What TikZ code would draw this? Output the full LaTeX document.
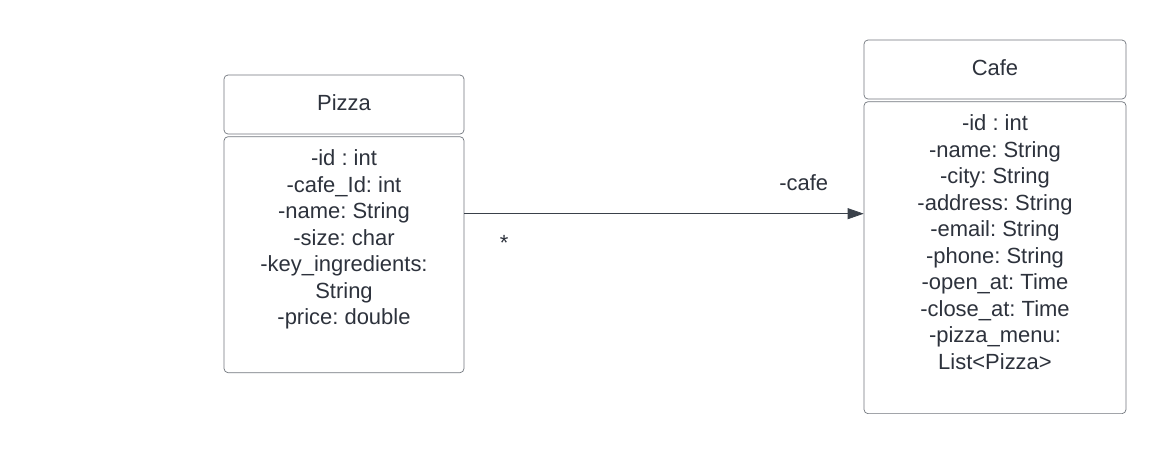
\documentclass[tikz,border=0pt]{standalone}
\usepackage{fontspec}
\setmainfont{Liberation Sans}
\usetikzlibrary{arrows.meta,positioning}
\frenchspacing
\begin{document}
\begin{tikzpicture}[x=0.02cm, y=-0.02cm, line join=round,
  font=\fontsize{12.5}{15.1}\selectfont,
  classhead/.style={draw=boxgray, rounded corners=0.08cm, minimum height=1.18cm, inner sep=0pt, text depth=0.08cm, text=umltext},
  classbody/.style={draw=boxgray, rounded corners=0.08cm, inner sep=0pt},
  attrs/.style={anchor=north, align=center, inner sep=0pt, text=umltext},
  assoc/.style={draw=linkgray, -{Triangle[length=0.32cm,width=0.22cm]}},
  rolelabel/.style={inner sep=0pt, text=umltext}]
  \definecolor{umltext}{RGB}{45,50,60}
  \definecolor{boxgray}{RGB}{112,117,124}
  \definecolor{linkgray}{RGB}{58,65,74}
  \useasboundingbox (0,0) rectangle (1167,454);
  \node[classhead, minimum width=4.8cm] (pizzahead) at (344,104.5) {Pizza};
  \node[classbody, minimum width=4.8cm, minimum height=4.72cm, below=0.04cm of pizzahead] (pizzabody) {};
  \node[attrs, below=0.26cm of pizzabody.north] (pizzaattrs) {-id : int\\-cafe\_Id: int\\-name: String\\-size: char\\-key\_ingredients:\\String\\-price: double};
  \node[classhead, minimum width=5.24cm] (cafehead) at (995,69.5) {Cafe};
  \node[classbody, minimum width=5.24cm, minimum height=6.24cm, below=0.04cm of cafehead] (cafebody) {};
  \node[attrs, below=0.26cm of cafebody.north] (cafeattrs) {-id : int\\-name: String\\-city: String\\-address: String\\-email: String\\-phone: String\\-open\_at: Time\\-close\_at: Time\\-pizza\_menu:\\List<Pizza>};
  \draw[assoc] ([yshift=0.82cm]pizzabody.east) -- ([yshift=0.82cm]pizzabody.east -| cafebody.west)
    node[rolelabel, pos=0.85, above=0.46cm] (rolecafe) {-cafe}
    node[rolelabel, pos=0.1, below=0.42cm] (rolemany) {*};
\end{tikzpicture}
\end{document}
